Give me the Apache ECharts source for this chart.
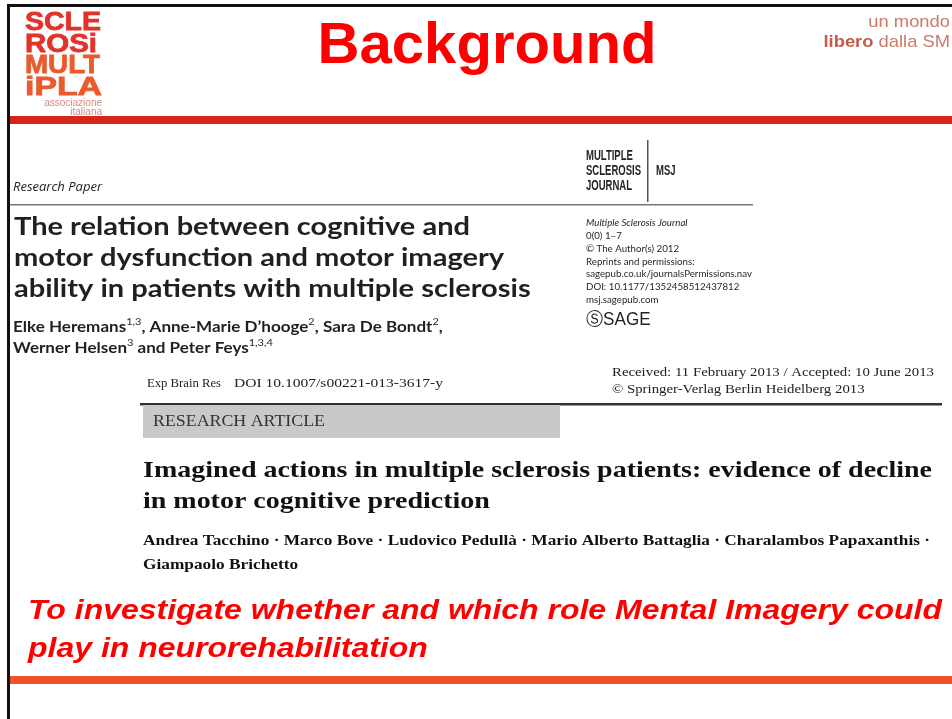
<!DOCTYPE html>
<html>
<head>
    <meta charset="utf-8">
    <title>Background</title>
    <script src="https://cdn.jsdelivr.net/npm/echarts@6/dist/echarts.min.js"></script>
    <style>
        body { margin: 0; background: #fff; }
    </style>
</head>
<body>
    <div id="main" style="width: 952px;height:719px;"></div>
    <script type="text/javascript">
        // slide texts
        var slideTitle = 'Background';
        var logoWords = ['SCLE', 'ROSi', 'MULT', 'iPLA'];
        var logoSub = ['associazione', 'italiana'];
        var motto = ['un mondo', '{b|libero} dalla SM'];

        var msjTitle = ['The relation between cognitive and', 'motor dysfunction and motor imagery', 'ability in patients with multiple sclerosis'];
        var msjAuthors = [
            '{n|Elke Heremans}{s|1,3}{n|, Anne-Marie D\u2019hooge}{s|2}{n|, Sara De Bondt}{s|2}{n|,}',
            '{n|Werner Helsen}{s|3}{n| and Peter Feys}{s|1,3,4}'
        ];
        var msjMasthead = ['MULTIPLE', 'SCLEROSIS', 'JOURNAL'];
        var msjInfo = ['0(0) 1\u20137', '\u00a9 The Author(s) 2012', 'Reprints and permissions:',
            'sagepub.co.uk/journalsPermissions.nav', 'DOI: 10.1177/1352458512437812', 'msj.sagepub.com'];

        var ebrRef = ['Exp Brain Res', 'DOI 10.1007/s00221-013-3617-y'];
        var ebrHeader = ['Received: 11 February 2013 / Accepted: 10 June 2013', '\u00a9 Springer-Verlag Berlin Heidelberg 2013'];
        var ebrTitle = ['Imagined actions in multiple sclerosis patients: evidence of decline', 'in motor cognitive prediction'];
        var ebrAuthors = ['Andrea Tacchino \u00b7 Marco Bove \u00b7 Ludovico Pedull\u00e0 \u00b7 Mario Alberto Battaglia \u00b7 Charalambos Papaxanthis \u00b7',
            'Giampaolo Brichetto'];

        var aim = ['To investigate whether and which role Mental Imagery could', 'play in neurorehabilitation'];

        var myChart = echarts.init(document.getElementById('main'), null, { renderer: 'canvas' });

        // text width helper, used to stretch the pasted paper clippings like in the slide
        var ctx = document.createElement('canvas').getContext('2d');
        function measure(text, font) {
            ctx.font = font;
            return ctx.measureText(text).width;
        }
        function fitScale(text, font, w) {
            return w / measure(text, font);
        }

        function txt(x, y, text, font, fill, sx, extra) {
            var st = { text: text, x: 0, y: 0, font: font, fill: fill, textVerticalAlign: 'middle' };
            if (extra) { for (var k in extra) st[k] = extra[k]; }
            return { type: 'text', x: x, y: y, scaleX: sx || 1, style: st, z: 10 };
        }
        function rect(x, y, w, h, fill, z) {
            return { type: 'rect', shape: { x: x, y: y, width: w, height: h }, style: { fill: fill }, z: z || 5 };
        }

        var els = [];
        var i, f, s;
        // frame
        els.push(rect(0, 0, 952, 719, '#ffffff', 0));
        els.push(rect(7, 4, 945, 3, '#111111', 20));
        els.push(rect(7, 4, 3, 715, '#111111', 20));
        els.push(rect(10, 116, 942, 8, '#d5261c', 20));
        els.push(rect(10, 676, 942, 8, '#f0502a', 20));

        // logo
        var logoCol = ['#e2332b', '#e2332b', '#ea5a2c', '#ea5a2c'];
        var logoW = [76, 72, 75, 77];
        f = '900 26px "Liberation Sans", Arial, sans-serif';
        for (i = 0; i < logoWords.length; i++) {
            els.push(txt(25, 23 + i * 21.5, logoWords[i], f, logoCol[i], fitScale(logoWords[i], f, logoW[i]), {
                stroke: logoCol[i], lineWidth: 0.8
            }));
        }
        els.push(txt(102, 103, logoSub[0], '10px "Liberation Sans", sans-serif', '#d88a80', 1, { textAlign: 'right' }));
        els.push(txt(102, 112, logoSub[1], '10px "Liberation Sans", sans-serif', '#d88a80', 1, { textAlign: 'right' }));

        // title
        f = 'bold 57px "Liberation Sans", Arial, sans-serif';
        els.push(txt(487, 47, slideTitle, f, '#ff0000', fitScale(slideTitle, f, 339), { textAlign: 'center' }));

        // motto
        els.push({
            type: 'text', z: 10, x: 950, y: 32, scaleX: 1.08,
            style: {
                text: motto.join('\n'), x: 0, y: 0, textAlign: 'right', textVerticalAlign: 'middle',
                font: '17px "Liberation Sans", sans-serif', fill: '#cc7a6c', lineHeight: 20,
                rich: { b: { fontWeight: 'bold', fontSize: 17, fill: '#c45a48', lineHeight: 20 } }
            }
        });

        // paper 1 block
        els.push(rect(10, 134, 750, 228, '#fbfbfb', 3));
        els.push(txt(13, 187, 'Research Paper', 'italic 13px "Open Sans", "Noto Sans", sans-serif', '#222'));
        els.push(rect(10, 204, 743, 1.5, '#777777', 6));
        f = 'bold 24px Lato, "Open Sans", sans-serif';
        s = fitScale(msjTitle[0], f, 456);
        for (i = 0; i < msjTitle.length; i++) {
            els.push(txt(14, 227 + i * 31, msjTitle[i], f, '#231f20', s));
        }
        for (i = 0; i < msjAuthors.length; i++) {
            els.push({
                type: 'text', z: 10, x: 13, y: 327 + i * 21, scaleX: 1.1,
                style: {
                    text: msjAuthors[i], x: 0, y: 0, textVerticalAlign: 'middle', fill: '#231f20',
                    rich: {
                        n: { font: 'bold 15.5px Lato, "Open Sans", sans-serif', lineHeight: 20, fill: '#231f20' },
                        s: { font: '10px Lato, sans-serif', lineHeight: 12, verticalAlign: 'top', fill: '#231f20' }
                    }
                }
            });
        }
        f = 'bold 14px "Liberation Sans", Arial, sans-serif';
        s = fitScale(msjMasthead[1], f, 55);
        for (i = 0; i < msjMasthead.length; i++) {
            els.push(txt(586, 156 + i * 15, msjMasthead[i], f, '#231f20', s));
        }
        els.push(rect(647, 140, 1.5, 62, '#555555', 6));
        els.push(txt(656, 171, 'MSJ', f, '#231f20', s));
        f = '9.5px Lato, "Open Sans", sans-serif';
        s = fitScale(msjInfo[3], f, 166);
        els.push(txt(586, 223, 'Multiple Sclerosis Journal', 'italic ' + f, '#231f20', s));
        for (i = 0; i < msjInfo.length; i++) {
            els.push(txt(586, 236 + i * 12.8, msjInfo[i], f, '#231f20', s));
        }
        els.push(txt(586, 320, '\u24c8SAGE', '18px "Liberation Sans", sans-serif', '#231f20', 0.95));

        // paper 2 block
        els.push(rect(140, 362, 802, 218, '#fcfcfc', 3));
        f = '13.5px "Liberation Serif", serif';
        els.push(txt(147, 383, ebrRef[0], f, '#222', fitScale(ebrRef[0], f, 74)));
        els.push(txt(234, 383, ebrRef[1], f, '#222', fitScale(ebrRef[1], f, 209)));
        s = fitScale(ebrHeader[0], f, 322);
        els.push(txt(612, 372, ebrHeader[0], f, '#222', s));
        els.push(txt(612, 389, ebrHeader[1], f, '#222', s));
        els.push(rect(140, 403, 802, 2.5, '#333333', 6));
        els.push(rect(143, 405, 417, 33, '#c9c9c9', 6));
        f = '16px "Liberation Serif", serif';
        els.push(txt(153, 422, 'RESEARCH ARTICLE', f, '#333', fitScale('RESEARCH ARTICLE', f, 172)));
        f = 'bold 24px "Liberation Serif", serif';
        s = fitScale(ebrTitle[0], f, 789);
        for (i = 0; i < ebrTitle.length; i++) {
            els.push(txt(143, 471 + i * 31, ebrTitle[i], f, '#111', s));
        }
        f = 'bold 15px "Liberation Serif", serif';
        s = fitScale(ebrAuthors[0], f, 787);
        for (i = 0; i < ebrAuthors.length; i++) {
            els.push(txt(143, 541 + i * 24, ebrAuthors[i], f, '#111', s));
        }

        // aim
        f = 'italic bold 27px "Liberation Sans", Arial, sans-serif';
        s = fitScale(aim[0], f, 914);
        for (i = 0; i < aim.length; i++) {
            els.push(txt(28, 612 + i * 38, aim[i], f, '#ff0000', s));
        }

        var option = {
            animation: false,
            graphic: { elements: els }
        };
        myChart.setOption(option);
    </script>
</body>
</html>
